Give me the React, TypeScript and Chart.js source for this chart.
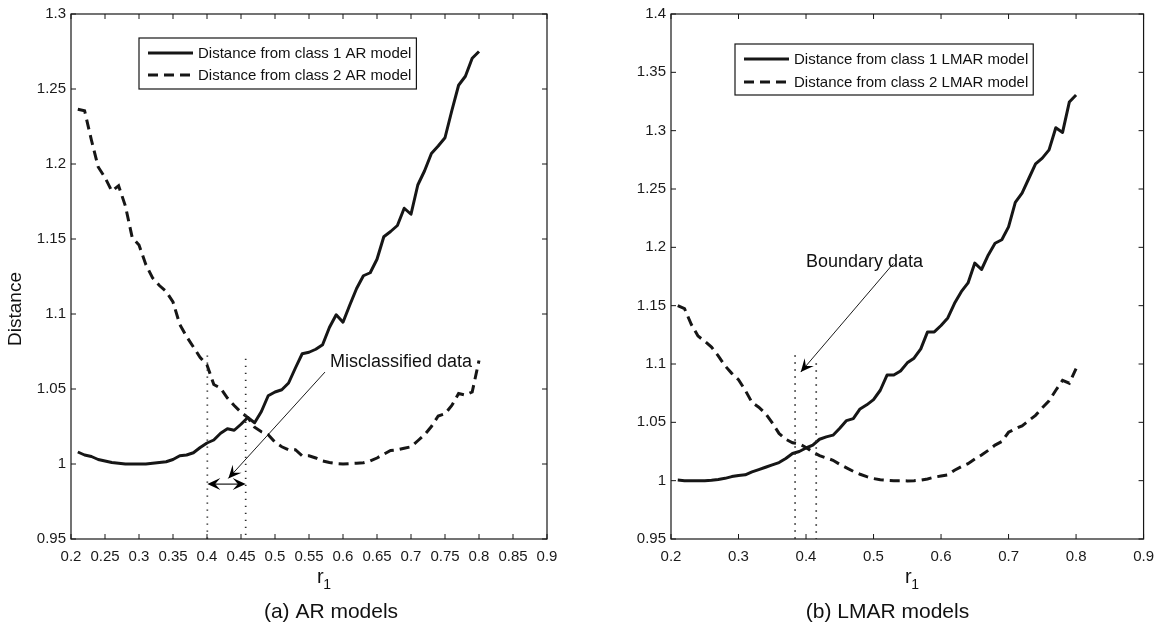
import { useEffect, useRef } from "react";
import { Chart, registerables } from "chart.js";

Chart.register(...registerables);

const FONT = '"Liberation Sans", Arial, Helvetica, sans-serif';
Chart.defaults.font.family = FONT;

// r1 sample positions
const R1 = [
  0.21, 0.22, 0.23, 0.24, 0.25, 0.26, 0.27, 0.28, 0.29, 0.3,
  0.31, 0.32, 0.33, 0.34, 0.35, 0.36, 0.37, 0.38, 0.39, 0.4,
  0.41, 0.42, 0.43, 0.44, 0.45, 0.46, 0.47, 0.48, 0.49, 0.5,
  0.51, 0.52, 0.53, 0.54, 0.55, 0.56, 0.57, 0.58, 0.59, 0.6,
  0.61, 0.62, 0.63, 0.64, 0.65, 0.66, 0.67, 0.68, 0.69, 0.7,
  0.71, 0.72, 0.73, 0.74, 0.75, 0.76, 0.77, 0.78, 0.79, 0.8,
];

// (a) AR models
const AR_CLASS1 = [
  1.008, 1.006, 1.005, 1.003, 1.002, 1.001, 1.0005, 1.0, 1.0, 1.0,
  1.0, 1.0005, 1.001, 1.0015, 1.003, 1.0055, 1.006, 1.0075, 1.011, 1.014,
  1.016, 1.0205, 1.0235, 1.0225, 1.0265, 1.031, 1.0275, 1.035, 1.0455, 1.048,
  1.0495, 1.054, 1.064, 1.0735, 1.0745, 1.0765, 1.0795, 1.091, 1.0995, 1.0945,
  1.106, 1.117, 1.1255, 1.1275, 1.1365, 1.1515, 1.155, 1.159, 1.1705, 1.1665,
  1.186, 1.1955, 1.207, 1.212, 1.2175, 1.2355, 1.2525, 1.2585, 1.2705, 1.275,
];
const AR_CLASS2 = [
  1.2365, 1.2355, 1.216, 1.198, 1.191, 1.182, 1.1855, 1.172, 1.151, 1.146,
  1.133, 1.124, 1.119, 1.115, 1.108, 1.093, 1.085, 1.078, 1.071, 1.066,
  1.053, 1.0505, 1.044, 1.039, 1.0345, 1.031, 1.0245, 1.0215, 1.0195, 1.0145,
  1.0115, 1.0095, 1.0095, 1.0055, 1.0055, 1.004, 1.002, 1.001, 1.0003, 1.0,
  1.0003, 1.0005, 1.0008, 1.002, 1.004, 1.0065, 1.009, 1.0095, 1.0105, 1.0115,
  1.0155, 1.0195, 1.025, 1.032, 1.0335, 1.039, 1.047, 1.046, 1.048, 1.069,
];

// (b) LMAR models
const LMAR_CLASS1 = [
  1.0005, 1.0, 1.0, 1.0, 1.0, 1.0003, 1.001, 1.002, 1.0035, 1.0045,
  1.005, 1.0075, 1.0095, 1.0115, 1.0135, 1.0155, 1.019, 1.0233, 1.025, 1.028,
  1.0305, 1.0355, 1.0375, 1.039, 1.045, 1.0515, 1.0532, 1.0615, 1.065, 1.0695,
  1.0775, 1.0905, 1.0905, 1.094, 1.101, 1.105, 1.113, 1.1275, 1.1275, 1.133,
  1.1395, 1.152, 1.162, 1.1695, 1.1865, 1.181, 1.1935, 1.2035, 1.2065, 1.2175,
  1.2385, 1.2465, 1.259, 1.2715, 1.2765, 1.2835, 1.3025, 1.2985, 1.3245, 1.3305,
];
const LMAR_CLASS2 = [
  1.15, 1.1475, 1.134, 1.124, 1.1195, 1.1145, 1.107, 1.0985, 1.092, 1.0865,
  1.0775, 1.067, 1.063, 1.0575, 1.0495, 1.0405, 1.0355, 1.0325, 1.0315, 1.0285,
  1.0245, 1.0215, 1.0195, 1.0175, 1.014, 1.011, 1.008, 1.0055, 1.0035, 1.0018,
  1.0008, 1.0003, 1.0, 1.0, 0.9998, 1.0, 1.0005, 1.0015, 1.003, 1.004,
  1.005, 1.009, 1.012, 1.0145, 1.0185, 1.022, 1.026, 1.0305, 1.0335, 1.0415,
  1.0445, 1.047, 1.0515, 1.056, 1.0625, 1.0685, 1.0775, 1.086, 1.0835, 1.096,
];

// axes
const X_RANGE = [0.2, 0.9];
const AR_X_STEP = 0.05;
const LMAR_X_STEP = 0.1;
const AR_Y_RANGE = [0.95, 1.3];
const LMAR_Y_RANGE = [0.95, 1.4];
const Y_STEP = 0.05;

// legend labels
const AR_LABELS = ["Distance from class 1 AR model", "Distance from class 2 AR model"];
const LMAR_LABELS = ["Distance from class 1 LMAR model", "Distance from class 2 LMAR model"];

// annotations (data coordinates)
const AR_BOUNDARY_X = [0.4005, 0.4569];
const AR_BOUNDARY_TOP = [1.0724, 1.0702];
const AR_SPAN_Y = 0.9866;
const AR_ARROW_FROM = [0.5735, 1.0613];
const AR_ARROW_TO = [0.4314, 0.9904];
const AR_NOTE = "Misclassified data";
const AR_NOTE_AT = [0.5809, 1.0678];

const LMAR_BOUNDARY_X = [0.3838, 0.4151];
const LMAR_BOUNDARY_TOP = [1.1074, 1.1006];
const LMAR_ARROW_FROM = [0.5294, 1.1861];
const LMAR_ARROW_TO = [0.3922, 1.0931];
const LMAR_NOTE = "Boundary data";
const LMAR_NOTE_AT = [0.4, 1.187];

const INK = "#161616";

type Panel = {
  class1: number[];
  class2: number[];
  labels: string[];
  xStep: number;
  yRange: number[];
  boundaryX: number[];
  boundaryTop: number[];
  spanY: number | null;
  arrowFrom: number[];
  arrowTo: number[];
  note: string;
  noteAt: number[];
  legendAt: number[];
  rowGap: number;
  yTitle: string | null;
  xLabelLeft: number;
  caption: string;
  captionX: number;
  canvasWidth: number;
  rightPad: number;
};

const PANELS: Panel[] = [
  {
    class1: AR_CLASS1,
    class2: AR_CLASS2,
    labels: AR_LABELS,
    xStep: AR_X_STEP,
    yRange: AR_Y_RANGE,
    boundaryX: AR_BOUNDARY_X,
    boundaryTop: AR_BOUNDARY_TOP,
    spanY: AR_SPAN_Y,
    arrowFrom: AR_ARROW_FROM,
    arrowTo: AR_ARROW_TO,
    note: AR_NOTE,
    noteAt: AR_NOTE_AT,
    legendAt: [68, 24],
    rowGap: 22,
    yTitle: "Distance",
    xLabelLeft: 317,
    caption: "(a) AR models",
    captionX: 331,
    canvasWidth: 581,
    rightPad: 34,
  },
  {
    class1: LMAR_CLASS1,
    class2: LMAR_CLASS2,
    labels: LMAR_LABELS,
    xStep: LMAR_X_STEP,
    yRange: LMAR_Y_RANGE,
    boundaryX: LMAR_BOUNDARY_X,
    boundaryTop: LMAR_BOUNDARY_TOP,
    spanY: null,
    arrowFrom: LMAR_ARROW_FROM,
    arrowTo: LMAR_ARROW_TO,
    note: LMAR_NOTE,
    noteAt: LMAR_NOTE_AT,
    legendAt: [64, 30],
    rowGap: 23,
    yTitle: null,
    xLabelLeft: 305,
    caption: "(b) LMAR models",
    captionX: 287.5,
    canvasWidth: 563,
    rightPad: 16,
  },
];

const fmt = (v: number | string) => String(Number(Number(v).toFixed(2)));

function arrowHead(ctx: CanvasRenderingContext2D, tx: number, ty: number, fx: number, fy: number) {
  const len = 13;
  const half = 6;
  const dx = fx - tx;
  const dy = fy - ty;
  const d = Math.hypot(dx, dy) || 1;
  const ux = dx / d;
  const uy = dy / d;
  const px = -uy;
  const py = ux;
  const bx = tx + ux * len;
  const by = ty + uy * len;
  const nx = tx + ux * len * 0.6;
  const ny = ty + uy * len * 0.6;
  ctx.beginPath();
  ctx.moveTo(tx, ty);
  ctx.lineTo(bx + px * half, by + py * half);
  ctx.lineTo(nx, ny);
  ctx.lineTo(bx - px * half, by - py * half);
  ctx.closePath();
  ctx.fill();
}

function makePlugin(panel: Panel) {
  return {
    id: "panelDecor",
    afterDraw(chart: any) {
      const ctx: CanvasRenderingContext2D = chart.ctx;
      const a = chart.chartArea;
      const xs = chart.scales.x;
      const ys = chart.scales.y;
      ctx.save();

      // dotted boundary lines
      ctx.strokeStyle = "#2e2e2e";
      ctx.lineWidth = 1.7;
      ctx.setLineDash([1.4, 5.6]);
      panel.boundaryX.forEach((bx, i) => {
        const px = xs.getPixelForValue(bx);
        ctx.beginPath();
        ctx.moveTo(px, ys.getPixelForValue(panel.boundaryTop[i]));
        ctx.lineTo(px, a.bottom);
        ctx.stroke();
      });
      ctx.setLineDash([]);

      // arrows
      ctx.strokeStyle = "#000";
      ctx.fillStyle = "#000";
      ctx.lineWidth = 0.9;
      const fx = xs.getPixelForValue(panel.arrowFrom[0]);
      const fy = ys.getPixelForValue(panel.arrowFrom[1]);
      const tx = xs.getPixelForValue(panel.arrowTo[0]);
      const ty = ys.getPixelForValue(panel.arrowTo[1]);
      ctx.beginPath();
      ctx.moveTo(fx, fy);
      ctx.lineTo(tx, ty);
      ctx.stroke();
      arrowHead(ctx, tx, ty, fx, fy);

      if (panel.spanY !== null) {
        const sy = ys.getPixelForValue(panel.spanY);
        const x1 = xs.getPixelForValue(panel.boundaryX[0]);
        const x2 = xs.getPixelForValue(panel.boundaryX[1]);
        ctx.lineWidth = 1.1;
        ctx.beginPath();
        ctx.moveTo(x1 + 6, sy);
        ctx.lineTo(x2 - 6, sy);
        ctx.stroke();
        arrowHead(ctx, x1, sy, x2, sy);
        arrowHead(ctx, x2, sy, x1, sy);
      }

      // note text
      ctx.font = `18px ${FONT}`;
      ctx.fillStyle = "#111";
      ctx.textAlign = "left";
      ctx.textBaseline = "middle";
      ctx.fillText(panel.note, xs.getPixelForValue(panel.noteAt[0]), ys.getPixelForValue(panel.noteAt[1]));

      // box
      ctx.strokeStyle = INK;
      ctx.lineWidth = 1.2;
      ctx.strokeRect(a.left, a.top, a.right - a.left, a.bottom - a.top);

      // inward ticks on all sides
      const TL = 5;
      ctx.lineWidth = 1;
      ctx.beginPath();
      xs.ticks.forEach((t: any) => {
        const px = xs.getPixelForValue(t.value);
        ctx.moveTo(px, a.bottom);
        ctx.lineTo(px, a.bottom - TL);
        ctx.moveTo(px, a.top);
        ctx.lineTo(px, a.top + TL);
      });
      ys.ticks.forEach((t: any) => {
        const py = ys.getPixelForValue(t.value);
        ctx.moveTo(a.left, py);
        ctx.lineTo(a.left + TL, py);
        ctx.moveTo(a.right, py);
        ctx.lineTo(a.right - TL, py);
      });
      ctx.stroke();

      // legend
      ctx.font = `15px ${FONT}`;
      const lx = a.left + panel.legendAt[0];
      const ly = a.top + panel.legendAt[1];
      const datasets = chart.data.datasets;
      let tw = 0;
      datasets.forEach((d: any) => {
        tw = Math.max(tw, ctx.measureText(d.label).width);
      });
      const bw = 59 + tw + 5;
      const bh = 51;
      ctx.fillStyle = "#fff";
      ctx.fillRect(lx, ly, bw, bh);
      ctx.strokeStyle = INK;
      ctx.lineWidth = 1.2;
      ctx.strokeRect(lx, ly, bw, bh);
      datasets.forEach((d: any, i: number) => {
        const ry = ly + 15 + i * panel.rowGap;
        ctx.strokeStyle = d.borderColor;
        ctx.lineWidth = d.borderWidth;
        ctx.setLineDash(d.borderDash || []);
        ctx.beginPath();
        ctx.moveTo(lx + 9, ry);
        ctx.lineTo(lx + 54, ry);
        ctx.stroke();
        ctx.setLineDash([]);
        ctx.fillStyle = "#111";
        ctx.textAlign = "left";
        ctx.textBaseline = "middle";
        ctx.fillText(d.label, lx + 59, ry + 1);
      });

      // y title
      if (panel.yTitle) {
        ctx.save();
        ctx.translate(16, 309);
        ctx.rotate(-Math.PI / 2);
        ctx.font = `19px ${FONT}`;
        ctx.fillStyle = "#111";
        ctx.textAlign = "center";
        ctx.textBaseline = "middle";
        ctx.fillText(panel.yTitle, 0, 0);
        ctx.restore();
      }

      // x label r_1
      ctx.fillStyle = "#111";
      ctx.textAlign = "left";
      ctx.textBaseline = "alphabetic";
      ctx.font = `20px ${FONT}`;
      ctx.fillText("r", panel.xLabelLeft, 583);
      const rw = ctx.measureText("r").width;
      ctx.font = `14px ${FONT}`;
      ctx.fillText("1", panel.xLabelLeft + rw - 0.5, 589);

      // caption
      ctx.font = `21px ${FONT}`;
      ctx.textAlign = "center";
      ctx.fillText(panel.caption, panel.captionX, 618);

      ctx.restore();
    },
  };
}

function PanelChart({ panel, left }: { panel: Panel; left: number }) {
  const ref = useRef<HTMLCanvasElement>(null);
  useEffect(() => {
    const toPts = (vals: number[]) => R1.map((x, i) => ({ x, y: vals[i] }));
    const chart = new Chart(ref.current as HTMLCanvasElement, {
      type: "line",
      data: {
        datasets: [
          {
            label: panel.labels[0],
            data: toPts(panel.class1),
            borderColor: INK,
            borderWidth: 3,
            pointRadius: 0,
            tension: 0,
            fill: false,
            borderJoinStyle: "round",
          },
          {
            label: panel.labels[1],
            data: toPts(panel.class2),
            borderColor: INK,
            borderWidth: 3,
            borderDash: [10, 6],
            pointRadius: 0,
            tension: 0,
            fill: false,
          },
        ],
      } as any,
      options: {
        responsive: false,
        animation: false,
        events: [],
        layout: { padding: { left: 0, right: panel.rightPad, top: 13, bottom: 0 } },
        plugins: { legend: { display: false }, tooltip: { enabled: false } },
        scales: {
          x: {
            type: "linear",
            min: X_RANGE[0],
            max: X_RANGE[1],
            grid: { display: false, drawTicks: false },
            border: { display: false },
            ticks: {
              stepSize: panel.xStep,
              autoSkip: false,
              maxRotation: 0,
              padding: 9,
              color: "#1a1a1a",
              font: { size: 15 },
              callback: (v: any) => fmt(v),
            },
            afterFit: (s: any) => {
              s.height = 85;
            },
          },
          y: {
            type: "linear",
            min: panel.yRange[0],
            max: panel.yRange[1],
            grid: { display: false, drawTicks: false },
            border: { display: false },
            ticks: {
              stepSize: Y_STEP,
              autoSkip: false,
              padding: 5,
              color: "#1a1a1a",
              font: { size: 15 },
              callback: (v: any) => fmt(v),
            },
            afterFit: (s: any) => {
              s.width = 71;
            },
          },
        },
      } as any,
      plugins: [makePlugin(panel)],
    });
    return () => chart.destroy();
  }, [panel]);
  return (
    <canvas
      ref={ref}
      width={panel.canvasWidth}
      height={624}
      style={{ position: "absolute", left, top: 0, width: panel.canvasWidth, height: 624 }}
    />
  );
}

export default function App() {
  return (
    <div style={{ position: "absolute", left: 0, top: 0, width: 1163, height: 624, background: "#fff", overflow: "hidden" }}>
      <PanelChart panel={PANELS[0]} left={0} />
      <PanelChart panel={PANELS[1]} left={600} />
    </div>
  );
}
